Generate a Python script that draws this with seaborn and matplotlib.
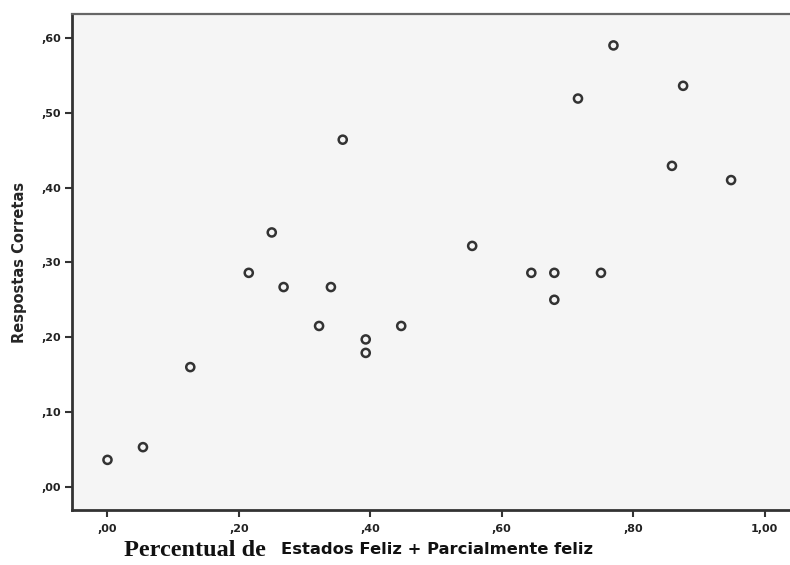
import seaborn as sns
import matplotlib.pyplot as plt
import pandas as pd
from matplotlib.ticker import FuncFormatter

# percentual de estados feliz + parcialmente feliz vs respostas corretas
x_vals = [0.00, 0.054, 0.126, 0.215, 0.250, 0.268, 0.322, 0.340, 0.358, 0.393, 0.393,
          0.447, 0.555, 0.645, 0.680, 0.680, 0.716, 0.751, 0.770, 0.859, 0.876, 0.949]
y_vals = [0.036, 0.053, 0.160, 0.286, 0.340, 0.267, 0.215, 0.267, 0.464, 0.197, 0.179,
          0.215, 0.322, 0.286, 0.286, 0.250, 0.519, 0.286, 0.590, 0.429, 0.536, 0.410]
x_ticks = [0.0, 0.2, 0.4, 0.6, 0.8, 1.0]
y_ticks = [0.0, 0.1, 0.2, 0.3, 0.4, 0.5, 0.6]

df = pd.DataFrame({'x': x_vals, 'y': y_vals})

sns.set_style('white')
fig = plt.figure(figsize=(7.9, 5.65), dpi=100)
ax = fig.add_axes([72 / 790, 55 / 565, 734 / 790, 496 / 565])
ax.set_facecolor('#f5f5f5')

sns.scatterplot(x='x', y='y', data=df, ax=ax, marker='o', s=34,
                facecolor='none', edgecolor='#333333', linewidth=1.8)

ax.set_xlim(-0.054, 1.063)
ax.set_ylim(-0.031, 0.632)
ax.set_xticks(x_ticks)
ax.set_yticks(y_ticks)


def fmt(v, pos):
    s = f"{v:.2f}".replace('.', ',')
    return s[1:] if s.startswith('0') else s


ax.xaxis.set_major_formatter(FuncFormatter(fmt))
ax.yaxis.set_major_formatter(FuncFormatter(fmt))
ax.tick_params(axis='both', bottom=True, left=True, direction='out', length=5,
               width=1.5, color='#333333', labelsize=8, labelcolor='#222222', pad=3)
ax.tick_params(axis='x', pad=5)
for lab in ax.get_xticklabels() + ax.get_yticklabels():
    lab.set_fontweight('bold')

for side in ['left', 'bottom']:
    ax.spines[side].set_color('#333333')
    ax.spines[side].set_linewidth(2)
ax.spines['top'].set_color('#666666')
ax.spines['top'].set_linewidth(1.6)
ax.spines['right'].set_visible(False)

ax.set_xlabel('')
ax.set_ylabel('Respostas Corretas', fontsize=10.5, fontweight='bold', labelpad=10)

fig.text(124 / 790, 1 - 551 / 565, 'Percentual de', family='Liberation Serif',
         fontsize=17.5, fontweight='bold', va='center', ha='left', color='#111111')
fig.text(281 / 790, 1 - 550 / 565, 'Estados Feliz + Parcialmente feliz',
         fontsize=11.8, fontweight='bold', va='center', ha='left', color='#111111')

fig.savefig('out.png', dpi=100)
